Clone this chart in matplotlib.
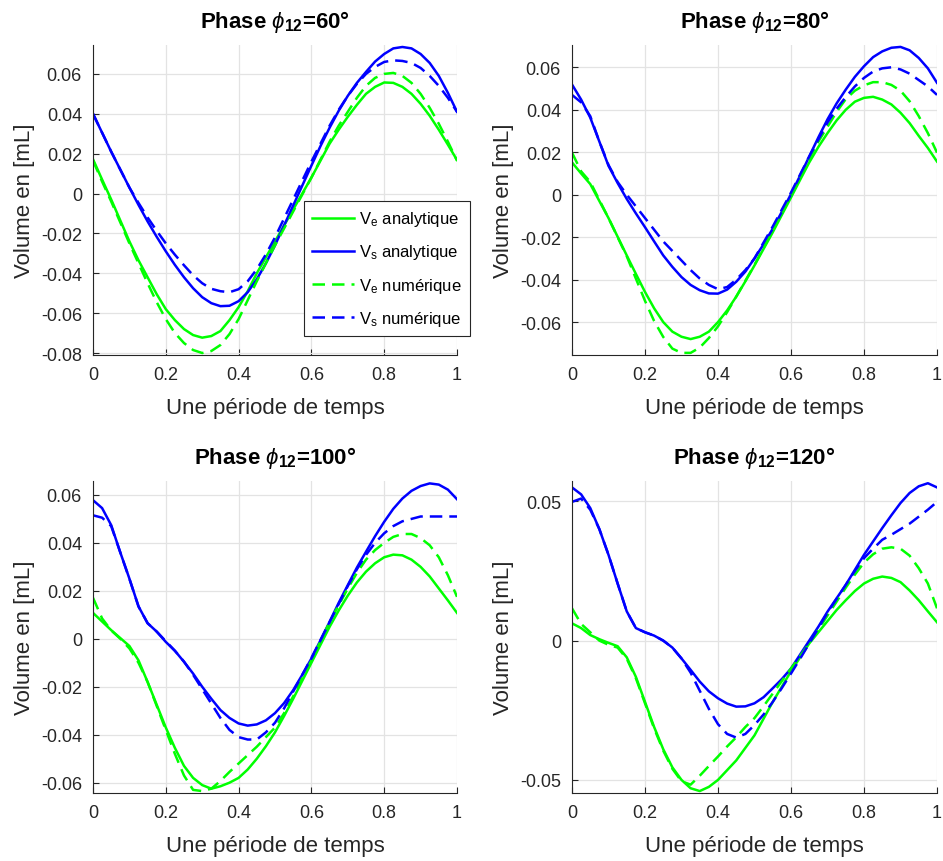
import numpy as np
import matplotlib
matplotlib.use('Agg')
import matplotlib.pyplot as plt

t = np.linspace(0, 1, 41)

ve_ana_60 = [0.0172, 0.007, -0.003, -0.0135, -0.024, -0.0335, -0.042, -0.0505, -0.058, -0.0635, -0.068,
             -0.071, -0.0723, -0.0715, -0.069, -0.0635, -0.057, -0.049, -0.040, -0.032, -0.024,
             -0.016, -0.008, 0.000, 0.008, 0.0165, 0.025, 0.032, 0.0385, 0.0445, 0.050,
             0.0535, 0.0557, 0.0555, 0.0535, 0.050, 0.045, 0.039, 0.032, 0.0245, 0.0168]
vs_ana_60 = [0.040, 0.0305, 0.021, 0.012, 0.003, -0.0057, -0.014, -0.0217, -0.029, -0.0358, -0.042,
             -0.0475, -0.052, -0.055, -0.0565, -0.0563, -0.054, -0.0495, -0.043, -0.035, -0.026,
             -0.016, -0.006, 0.004, 0.014, 0.0238, 0.033, 0.0415, 0.049, 0.0555, 0.061,
             0.0662, 0.070, 0.0728, 0.0735, 0.0728, 0.070, 0.0655, 0.059, 0.0505, 0.041]
ve_num_60 = [0.0165, 0.006, -0.004, -0.0145, -0.025, -0.035, -0.045, -0.0545, -0.063, -0.070, -0.075,
             -0.0785, -0.080, -0.079, -0.076, -0.0705, -0.063, -0.0535, -0.044, -0.035, -0.026,
             -0.0175, -0.009, -0.0005, 0.008, 0.017, 0.026, 0.034, 0.041, 0.048, 0.054,
             0.058, 0.060, 0.0605, 0.059, 0.0555, 0.050, 0.043, 0.035, 0.026, 0.0165]
vs_num_60 = [0.040, 0.0305, 0.021, 0.012, 0.003, -0.0047, -0.012, -0.0187, -0.025, -0.0307, -0.036,
             -0.041, -0.045, -0.0478, -0.049, -0.0495, -0.048, -0.044, -0.038, -0.0305, -0.022,
             -0.0125, -0.003, 0.0065, 0.016, 0.025, 0.034, 0.042, 0.049, 0.055, 0.060,
             0.0635, 0.066, 0.0668, 0.0665, 0.0655, 0.063, 0.059, 0.054, 0.048, 0.041]

ve_ana_80 = [0.0152, 0.010, 0.005, -0.003, -0.011, -0.0198, -0.0286, -0.0373, -0.0458, -0.0535, -0.060,
             -0.0645, -0.0669, -0.068, -0.0669, -0.0645, -0.060, -0.0545, -0.048, -0.0408, -0.0333,
             -0.0255, -0.0177, -0.0095, -0.0013, 0.007, 0.0152, 0.0225, 0.029, 0.035, 0.040,
             0.0438, 0.0456, 0.0461, 0.0448, 0.0425, 0.0386, 0.0337, 0.0277, 0.022, 0.0156]
vs_ana_80 = [0.0519, 0.0448, 0.0363, 0.025, 0.0136, 0.0055, -0.002, -0.0088, -0.0153, -0.022, -0.0286,
             -0.034, -0.0388, -0.0425, -0.045, -0.0465, -0.0466, -0.0447, -0.041, -0.0362, -0.030,
             -0.0233, -0.016, -0.008, 0.0003, 0.009, 0.018, 0.027, 0.0355, 0.043, 0.0495,
             0.0555, 0.0605, 0.0648, 0.0675, 0.0692, 0.0696, 0.068, 0.0644, 0.0595, 0.0527]
ve_num_80 = [0.0198, 0.011, 0.006, -0.0025, -0.011, -0.020, -0.029, -0.0395, -0.050, -0.0595, -0.067,
             -0.0725, -0.0745, -0.0745, -0.072, -0.0675, -0.062, -0.0553, -0.048, -0.0405, -0.033,
             -0.025, -0.017, -0.0085, 0.000, 0.0085, 0.017, 0.025, 0.032, 0.039, 0.045,
             0.049, 0.0515, 0.053, 0.053, 0.0517, 0.049, 0.044, 0.037, 0.029, 0.0198]
vs_num_80 = [0.047, 0.0435, 0.037, 0.025, 0.014, 0.006, 0.000, -0.0055, -0.011, -0.0165, -0.022,
             -0.0265, -0.031, -0.0355, -0.0395, -0.0425, -0.0445, -0.0435, -0.040, -0.0355, -0.030,
             -0.0225, -0.015, -0.007, 0.001, 0.0095, 0.018, 0.026, 0.034, 0.0405, 0.046,
             0.051, 0.055, 0.058, 0.0595, 0.060, 0.059, 0.057, 0.054, 0.051, 0.047]

ve_ana_100 = [0.0108, 0.0072, 0.0036, 0.0003, -0.003, -0.009, -0.018, -0.0275, -0.037, -0.0455, -0.053,
              -0.058, -0.061, -0.0625, -0.0615, -0.060, -0.058, -0.0545, -0.050, -0.0448, -0.039,
              -0.0322, -0.025, -0.0175, -0.010, -0.0025, 0.005, 0.0118, 0.018, 0.0235, 0.028,
              0.0315, 0.034, 0.0351, 0.0348, 0.033, 0.030, 0.026, 0.021, 0.016, 0.0108]
vs_ana_100 = [0.0578, 0.0545, 0.0474, 0.036, 0.0251, 0.0135, 0.0065, 0.003, -0.0013, -0.005, -0.0096,
              -0.0145, -0.020, -0.025, -0.0297, -0.033, -0.0353, -0.0362, -0.0357, -0.034, -0.031,
              -0.0268, -0.0214, -0.015, -0.0082, -0.0006, 0.0071, 0.015, 0.0224, 0.0297, 0.0363,
              0.0428, 0.0488, 0.0542, 0.0585, 0.0617, 0.0637, 0.0648, 0.0643, 0.0622, 0.0582]
ve_num_100 = [0.0171, 0.0085, 0.0035, 0.000, -0.004, -0.010, -0.018, -0.028, -0.038, -0.048, -0.057,
              -0.063, -0.0635, -0.0625, -0.0593, -0.0555, -0.052, -0.0485, -0.045, -0.041, -0.037,
              -0.031, -0.024, -0.0165, -0.009, -0.001, 0.007, 0.014, 0.021, 0.0275, 0.033,
              0.037, 0.040, 0.0425, 0.0437, 0.0437, 0.042, 0.039, 0.034, 0.0265, 0.0175]
vs_num_100 = [0.0515, 0.0505, 0.047, 0.036, 0.025, 0.0135, 0.0065, 0.003, -0.001, -0.005, -0.0095,
              -0.015, -0.021, -0.027, -0.033, -0.038, -0.041, -0.042, -0.042, -0.039, -0.035,
              -0.029, -0.022, -0.015, -0.008, -0.0005, 0.007, 0.0145, 0.022, 0.029, 0.035,
              0.040, 0.044, 0.047, 0.049, 0.050, 0.051, 0.051, 0.051, 0.051, 0.051]

ve_ana_120 = [0.0062, 0.0045, 0.002, 0.0005, -0.0008, -0.002, -0.006, -0.013, -0.022, -0.031, -0.039,
              -0.0455, -0.050, -0.053, -0.054, -0.0525, -0.050, -0.0465, -0.043, -0.0385, -0.034,
              -0.028, -0.022, -0.0165, -0.011, -0.006, -0.001, 0.003, 0.007, 0.011, 0.0145,
              0.0178, 0.0205, 0.0222, 0.023, 0.0225, 0.021, 0.018, 0.0145, 0.0105, 0.0066]
vs_ana_120 = [0.055, 0.0525, 0.0476, 0.040, 0.0308, 0.0205, 0.0105, 0.0045, 0.003, 0.0018, 0.000,
              -0.0025, -0.0064, -0.0105, -0.0147, -0.0182, -0.0207, -0.0226, -0.0237, -0.0236, -0.0225,
              -0.0203, -0.0171, -0.0138, -0.010, -0.005, 0.000, 0.005, 0.0104, 0.0152, 0.020,
              0.0254, 0.0308, 0.0356, 0.0404, 0.045, 0.0494, 0.053, 0.0554, 0.0565, 0.055]
ve_num_120 = [0.0116, 0.006, 0.003, 0.000, -0.0015, -0.0025, -0.0065, -0.0135, -0.0225, -0.0315, -0.0395,
              -0.046, -0.0505, -0.0517, -0.0485, -0.045, -0.0416, -0.038, -0.0347, -0.031, -0.0278,
              -0.0235, -0.019, -0.0145, -0.010, -0.0055, -0.001, 0.004, 0.009, 0.014, 0.019,
              0.0237, 0.028, 0.031, 0.033, 0.0335, 0.033, 0.0305, 0.026, 0.0205, 0.0116]
vs_num_120 = [0.0498, 0.051, 0.047, 0.040, 0.0308, 0.0205, 0.0105, 0.0045, 0.003, 0.0018, 0.000,
              -0.0025, -0.0064, -0.0115, -0.018, -0.0245, -0.030, -0.0335, -0.0348, -0.0335, -0.0303,
              -0.0265, -0.022, -0.017, -0.0118, -0.0065, -0.001, 0.0045, 0.010, 0.015, 0.020,
              0.025, 0.0296, 0.033, 0.0362, 0.038, 0.040, 0.042, 0.0445, 0.047, 0.0498]

phases = [60, 80, 100, 120]
curves = [(ve_ana_60, vs_ana_60, ve_num_60, vs_num_60),
          (ve_ana_80, vs_ana_80, ve_num_80, vs_num_80),
          (ve_ana_100, vs_ana_100, ve_num_100, vs_num_100),
          (ve_ana_120, vs_ana_120, ve_num_120, vs_num_120)]
yticks = [np.arange(-0.08, 0.061, 0.02), np.arange(-0.06, 0.061, 0.02),
          np.arange(-0.06, 0.061, 0.02), [-0.05, 0, 0.05]]
ylims = [(-0.081, 0.0745), (-0.0755, 0.0705), (-0.0643, 0.0658), (-0.0547, 0.0573)]
labels = [r'V$_\mathrm{e}$ analytique', r'V$_\mathrm{s}$ analytique',
          r'V$_\mathrm{e}$ numérique', r'V$_\mathrm{s}$ numérique']

# %% make plot
plt.rcParams['font.family'] = ['Liberation Sans', 'DejaVu Sans']
plt.rcParams['mathtext.fontset'] = 'custom'
plt.rcParams['mathtext.rm'] = 'Liberation Sans'
plt.rcParams['mathtext.it'] = 'Liberation Sans:italic'
plt.rcParams['mathtext.bf'] = 'Liberation Sans:bold'
plt.rcParams['axes.unicode_minus'] = False

fig = plt.figure(figsize=(9.43, 8.62), dpi=100)
W, H = 943, 862
boxes = [(93, 46, 457, 356), (572, 46, 937, 356), (93, 482, 457, 794), (572, 482, 937, 794)]

green = (0, 1, 0)
blue = (0, 0, 1)
dash = (0, (5, 2.8))
dark = '#262626'

for k, (x0, y0, x1, y1) in enumerate(boxes):
    ax = fig.add_axes([x0 / W, 1 - y1 / H, (x1 - x0) / W, (y1 - y0) / H])
    ve_a, vs_a, ve_n, vs_n = curves[k]
    ax.plot(t, ve_a, color=green, lw=1.8, label=labels[0])
    ax.plot(t, vs_a, color=blue, lw=1.8, label=labels[1])
    ax.plot(t, ve_n, color=green, lw=1.8, ls=dash, label=labels[2])
    ax.plot(t, vs_n, color=blue, lw=1.8, ls=dash, label=labels[3])

    ax.set_xlim(0, 1)
    ax.set_ylim(*ylims[k])
    ax.set_xticks(np.arange(0, 1.01, 0.2))
    ax.set_yticks(yticks[k])
    ax.xaxis.set_major_formatter(plt.FuncFormatter(lambda v, p: '%g' % round(v, 4)))
    ax.yaxis.set_major_formatter(plt.FuncFormatter(lambda v, p: '%g' % round(v, 4)))
    ax.grid(True, color='#e3e3e3', lw=0.9)
    ax.set_axisbelow(True)
    ax.spines.right.set_visible(False)
    ax.spines.top.set_visible(False)
    ax.spines.left.set_color(dark)
    ax.spines.bottom.set_color(dark)
    ax.tick_params(direction='in', length=4, width=0.8, color=dark, labelcolor=dark,
                   labelsize=13, pad=8)
    ax.set_xlabel('Une période de temps', fontsize=16, color=dark, labelpad=10)
    ax.set_ylabel('Volume en [mL]', fontsize=16, color=dark, labelpad=4)
    ax.set_title(r'Phase $\phi_{\mathbf{12}}$=%d°' % phases[k], fontsize=16, fontweight='bold', pad=13)

    if k == 0:
        leg = ax.legend(loc='upper left', bbox_to_anchor=(304 / W, 1 - 202 / H),
                        bbox_transform=fig.transFigure, fontsize=12, frameon=True, fancybox=False,
                        edgecolor=dark, framealpha=1, borderaxespad=0, borderpad=0.5,
                        handlelength=2.5, handletextpad=0.3, labelspacing=0.85)
        leg.get_frame().set_linewidth(0.8)

plt.savefig('out.png', dpi=100)
